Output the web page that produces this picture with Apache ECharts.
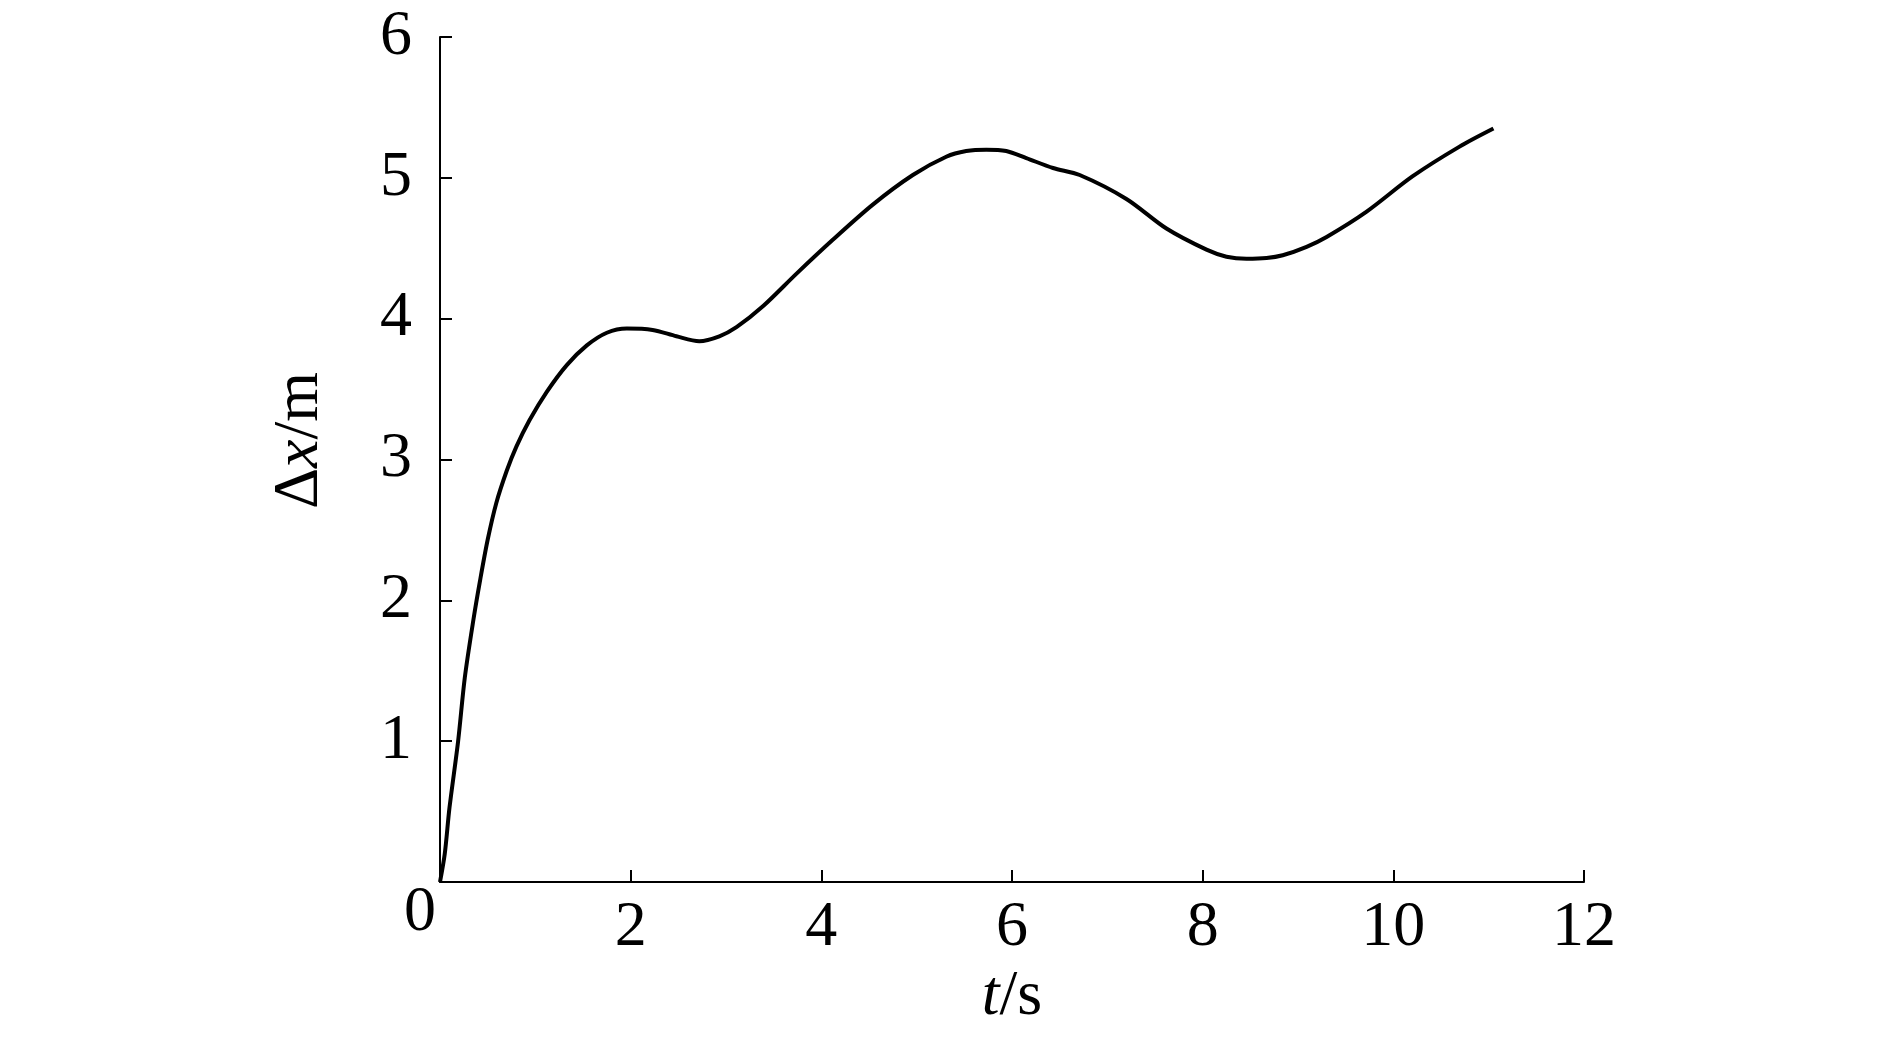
<!DOCTYPE html>
<html>
<head>
<meta charset="utf-8">
<script src="https://cdn.jsdelivr.net/npm/echarts@6/dist/echarts.min.js"></script>
<style>
html, body { margin: 0; padding: 0; background: #fff; }
#chart { width: 1890px; height: 1039px; }
</style>
</head>
<body>
<div id="chart"></div>
<script>
// t (s) and Δx (m)
const times = [0, 0.05, 0.10, 0.19, 0.26, 0.35, 0.42, 0.50, 0.59, 0.70, 0.80, 0.94, 1.12, 1.33, 1.54, 1.75, 1.96, 2.23, 2.48, 2.72, 2.93, 3.11, 3.39, 3.74, 4.12, 4.54, 4.96, 5.31, 5.52, 5.73, 5.94, 6.15, 6.43, 6.71, 7.20, 7.62, 8.04, 8.25, 8.46, 8.67, 8.84, 9.09, 9.30, 9.72, 10.20, 10.69, 11.05]
const dx = [0, 0.2, 0.53, 1.0, 1.45, 1.86, 2.14, 2.43, 2.69, 2.92, 3.09, 3.28, 3.48, 3.67, 3.81, 3.90, 3.93, 3.92, 3.875, 3.84, 3.875, 3.94, 4.09, 4.32, 4.56, 4.81, 5.02, 5.15, 5.19, 5.20, 5.19, 5.14, 5.07, 5.02, 4.85, 4.64, 4.49, 4.44, 4.425, 4.43, 4.45, 4.51, 4.58, 4.76, 5.01, 5.22, 5.35]
const xTicks = [0, 2, 4, 6, 8, 10, 12]
const yTicks = [0, 1, 2, 3, 4, 5, 6]

const font = "'Liberation Serif', 'Times New Roman', serif"
const axisStyle = { lineStyle: { color: '#000', width: 2 } }
const tickStyle = { inside: true, length: 12, lineStyle: { color: '#000', width: 2 } }
const nameRich = {
    i: { fontFamily: font, fontSize: 64, fontStyle: 'italic', color: '#000' },
    n: { fontFamily: font, fontSize: 64, color: '#000' }
}

window.onload = () => {
    const chart = echarts.init(document.getElementById('chart'))
    chart.setOption({
        backgroundColor: '#fff',
        animation: false,
        grid: { left: 440, top: 37, width: 1144, height: 845, outerBoundsMode: 'none' },
        xAxis: {
            type: 'value',
            min: xTicks[0], max: xTicks[xTicks.length - 1], interval: 2,
            name: '{i|t}{n|/s}',
            nameLocation: 'middle',
            nameGap: 78,
            nameTextStyle: { rich: nameRich },
            axisLine: axisStyle,
            axisTick: tickStyle,
            splitLine: { show: false },
            axisLabel: {
                margin: 14,
                color: '#000',
                fontFamily: font,
                fontSize: 64,
                showMinLabel: true,
                formatter: v => v === 0 ? '{z|0}' : String(v),
                rich: {
                    z: { fontFamily: font, fontSize: 64, color: '#000', padding: [0, 40, 0, 0], lineHeight: 34 }
                }
            }
        },
        yAxis: {
            type: 'value',
            min: yTicks[0], max: yTicks[yTicks.length - 1], interval: 1,
            name: '{n|Δ}{i|x}{n|/m}',
            nameLocation: 'middle',
            nameRotate: 90,
            nameGap: 108,
            nameTextStyle: { rich: nameRich, padding: [0, 0, 0, 38] },
            axisLine: axisStyle,
            axisTick: tickStyle,
            splitLine: { show: false },
            axisLabel: {
                margin: 28,
                color: '#000',
                fontFamily: font,
                fontSize: 64,
                formatter: v => v === 0 ? '' : String(v)
            }
        },
        series: [{
            type: 'line',
            data: times.map((t, i) => [t, dx[i]]),
            smooth: 0.3,
            showSymbol: false,
            lineStyle: { color: '#000', width: 4 }
        }]
    })
}
</script>
</body>
</html>
